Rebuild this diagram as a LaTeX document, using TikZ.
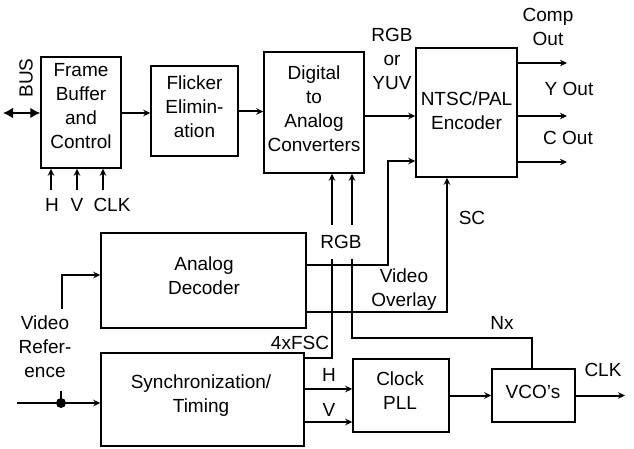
\documentclass[tikz,border=0pt]{standalone}
\usepackage{fontspec}
\setmainfont{Liberation Sans}
\usetikzlibrary{arrows.meta}
\begin{document}
\begin{tikzpicture}[x=1pt,y=-1pt,
  box/.style={draw, line width=1.5pt, inner sep=0pt},
  txt/.style={font=\fontsize{19}{24}\selectfont, align=center, inner sep=0pt},
  wire/.style={line width=2pt, -{Stealth[length=7pt,width=6.5pt]}},
  plain/.style={line width=2pt}]
\useasboundingbox (0,0) rectangle (634,449);

% boxes
\node[box, minimum width=80pt, minimum height=111pt] (fb) at (81,112.5) {};
\node[box, minimum width=87pt, minimum height=90pt] (fl) at (194.5,111) {};
\node[box, minimum width=100pt, minimum height=121pt] (dac) at (314,112.5) {};
\node[box, minimum width=101pt, minimum height=129pt] (enc) at (466.5,112.5) {};
\node[box, minimum width=205pt, minimum height=95pt] (ad) at (203.5,280.5) {};
\node[box, minimum width=203pt, minimum height=93pt] (sync) at (202.5,399.5) {};
\node[box, minimum width=96pt, minimum height=73pt] (pll) at (401,395.5) {};
\node[box, minimum width=83pt, minimum height=53pt] (vco) at (533.5,395.5) {};

% box texts
\node[txt] (fbt) at (81,106) {Frame\\Buffer\\and\\Control};
\node[txt] (flt) at (194.5,107) {Flicker\\Elimin-\\ation};
\node[txt] (dact) at (314,108.5) {Digital\\to\\Analog\\Converters};
\node[txt] (enct) at (466.5,110.5) {NTSC/PAL\\Encoder};
\node[txt] (adt) at (204,275.5) {Analog\\Decoder};
\node[txt] (synct) at (201,395.5) {Synchronization/\\Timing};
\node[txt] (pllt) at (400,390.5) {Clock\\PLL};
\node[txt] (vcot) at (533,392) {VCO's};

% bus
\coordinate (bus) at (3,113);
\draw[line width=2.8pt, {Latex[length=10pt,width=11pt]}-{Latex[length=10pt,width=11pt]}] (bus) -- (bus -| fb.west);
\node[txt, rotate=90] (bust) at (26,78) {BUS};

% H V CLK
\coordinate (hin) at (51,190);
\coordinate (vin) at (77,190);
\coordinate (cin) at (103,190);
\draw[wire] (hin) -- (hin |- fb.south);
\draw[wire] (vin) -- (vin |- fb.south);
\draw[wire] (cin) -- (cin |- fb.south);
\node[txt] (hl) at (52,205) {H};
\node[txt] (vl) at (77,205) {V};
\node[txt] (cl) at (112,205) {CLK};

% chain
\draw[wire] ([yshift=-0.5pt]fb.east) coordinate (a1) -- (a1 -| fl.west);
\draw[wire] ([yshift=-0.5pt]fl.east) coordinate (a2) -- (a2 -| dac.west);
\draw[wire] ([yshift=-3.5pt]dac.east) coordinate (a3) -- (a3 -| enc.west);
\node[txt] (rgbyuv) at (392,59) {RGB\\or\\YUV};

% encoder outputs
\coordinate (compo) at (567,63);
\coordinate (yo) at (567,116);
\coordinate (co) at (567,162);
\draw[wire] (enc.east |- compo) -- (compo);
\draw[wire] (enc.east |- yo) -- (yo);
\draw[wire] (enc.east |- co) -- (co);
\node[txt] (compt) at (548,27) {Comp\\Out};
\node[txt] (yot) at (569,89) {Y Out};
\node[txt] (cot) at (568,138) {C Out};

% video overlay and SC
\coordinate (voc) at (388,161);
\draw[wire] ([yshift=15.5pt]ad.east) -| (voc) -- (voc -| enc.west);
\coordinate (scc) at (447,312);
\draw[wire] (ad.east |- scc) -- (scc) -- (scc |- enc.south);
\node[txt] (sct) at (472,218) {SC};
\node[txt] (vot) at (404,289.5) {Video\\Overlay};

% 4xFSC and Nx
\coordinate (fsc) at (332,358);
\draw[wire] (sync.east |- fsc) -- (fsc) -- (fsc |- dac.south);
\coordinate (nx1) at (352,338);
\coordinate (nx2) at (532,338);
\draw[wire] (nx2 |- vco.north) -- (nx2) -- (nx1) -- (nx1 |- dac.south);
\node[txt, fill=white, minimum height=34pt, minimum width=44pt] (rgb) at (341,242) {RGB};
\node[txt] (fsct) at (300,343) {4xFSC};
\node[txt] (nxt) at (502,323) {Nx};

% video reference
\coordinate (vrin) at (17,403);
\draw[wire] (vrin) -- (vrin -| sync.west);
\node[circle, fill, inner sep=0pt, minimum size=10pt] (dot) at (61,403) {};
\coordinate (stub) at (61,391);
\draw[plain] (dot.center) -- (stub);
\coordinate (vrup) at (62,309);
\coordinate (vrc) at (62,275);
\draw[wire] (vrup) -- (vrc) -- (vrc -| ad.west);
\node[txt] (vrt) at (45,347) {Video\\Refer-\\ence};

% sync to PLL, VCO, CLK
\draw[wire] ([yshift=10.5pt]sync.east) coordinate (hs) -- (hs -| pll.west);
\draw[wire] ([yshift=-22.5pt]sync.east) coordinate (vs) -- (vs -| pll.west);
\node[txt] (hpl) at (329,375) {H};
\node[txt] (vpl) at (329,410) {V};
\draw[wire] (pll.east) -- (vco.west);
\coordinate (clko) at (625,395.5);
\draw[wire] (vco.east) -- (clko);
\node[txt] (clkt) at (603,370) {CLK};
\end{tikzpicture}
\end{document}
